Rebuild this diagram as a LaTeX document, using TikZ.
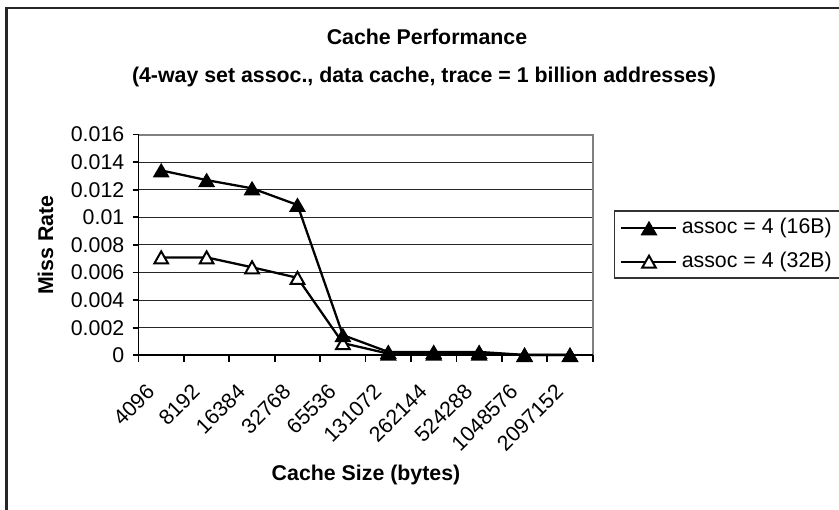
\documentclass[tikz,border=0pt]{standalone}
\usepackage{fontspec}
\setmainfont{Liberation Sans}
\begin{document}
\begin{tikzpicture}[x=0.75pt,y=-0.75pt,
  every node/.style={inner sep=0pt},
  basefont/.style={font=\fontsize{16}{19}\selectfont},
  boldfont/.style={font=\fontsize{16}{19}\selectfont\bfseries},
  gridline/.style={line width=0.75pt,black!85},
  plotedge/.style={line width=1.5pt,black!50},
  axisline/.style={line width=1.3pt,black},
  series/.style={line width=1.7pt,black,line join=round},
  tri/.pic={\fill[black] (-8.5,7) -- (0,-7.5) -- (8.5,7) -- cycle;},
  otri/.pic={\draw[black,fill=white,line width=1.5pt,line join=miter,miter limit=3] (-6.8,6) -- (0,-6) -- (6.8,6) -- cycle;}
]
\useasboundingbox (0,0) rectangle (839,510);

% chart frame (left and top edges)
\draw[line width=1.6pt,black!85] (6.5,512) -- (6.5,8) -- (841,8);

% titles
\node[boldfont,anchor=base] (title1) at (427,44.3) {Cache Performance};
\node[boldfont,anchor=base] (title2) at (424,83) {(4-way set assoc., data cache, trace = 1 billion addresses)};

% plot area corners
\coordinate (pTL) at (138.5,134.5);
\coordinate (pBL) at (138.5,355.3);
\coordinate (pBR) at (592.7,355.3);
\coordinate (pTR) at (592.7,134.5);

% horizontal grid lines
\foreach \k in {1,...,7}
  \draw[gridline] (138.5,{355.3-27.6*\k}) -- (592.7,{355.3-27.6*\k});
\draw[plotedge] (pTL) -- (pTR) -- (pBR);

% axes
\draw[axisline] (pTL) -- (pBL) -- (pBR);

% y ticks and labels
\foreach \lab [count=\k from 0] in {0,0.002,0.004,0.006,0.008,0.01,0.012,0.014,0.016} {
  \draw[axisline] (132.5,{355.3-27.6*\k}) -- (138.5,{355.3-27.6*\k});
  \node[basefont,anchor=east] (yl\k) at (124.5,{355.3-27.6*\k}) {\lab};
}

% x ticks
\foreach \k in {0,...,10}
  \draw[axisline] ({138.5+45.42*\k},355.3) -- ({138.5+45.42*\k},361.5);

% x labels
\foreach \lab [count=\i] in {4096,8192,16384,32768,65536,131072,262144,524288,1048576,2097152}
  \node[basefont,anchor=east,rotate=45] (xl\i) at ({138.5+(\i-0.5)*45.42-10.5},388) {\lab};

% axis titles
\node[boldfont,rotate=90] (ytitle) at (45.5,245) {Miss Rate};
\node[boldfont,anchor=base] (xtitle) at (366,480) {Cache Size (bytes)};

% data points
\foreach \v [count=\i] in {0.0134,0.0127,0.0121,0.0109,0.00147,0.00025,0.00025,0.00025,0.00003,0.00003}
  \coordinate (a\i) at ({138.5+(\i-0.5)*45.42},{355.3-13800*\v});
\foreach \v [count=\i] in {0.0071,0.0071,0.00638,0.00562,0.00088,0.00012,0.00012,0.00012,0.00001,0.00001}
  \coordinate (b\i) at ({138.5+(\i-0.5)*45.42},{355.3-13800*\v});

% series: 32B block size (open triangles)
\draw[series] (b1) \foreach \i in {2,...,10} { -- (b\i) };
\foreach \i in {1,...,10} \pic at (b\i) {otri};

% series: 16B block size (filled triangles)
\draw[series] (a1) \foreach \i in {2,...,10} { -- (a\i) };
\foreach \i in {1,...,10} \pic at (a\i) {tri};

% legend
\draw[line width=0.9pt,black!80] (841,211) -- (614.3,211) -- (614.3,278) -- (841,278);
\coordinate (la1) at (621,228.3);
\coordinate (lb1) at (676,228.3);
\coordinate (la2) at (621,261.7);
\coordinate (lb2) at (676,261.7);
\draw[series] (la1) -- (lb1);
\pic at (649,228.3) {tri};
\draw[series] (la2) -- (lb2);
\pic at (649,261.7) {otri};
\node[basefont,anchor=west] (leg1) at (681.5,228.3) {assoc = 4 (16B)};
\node[basefont,anchor=west] (leg2) at (681.5,261.7) {assoc = 4 (32B)};
\end{tikzpicture}
\end{document}
